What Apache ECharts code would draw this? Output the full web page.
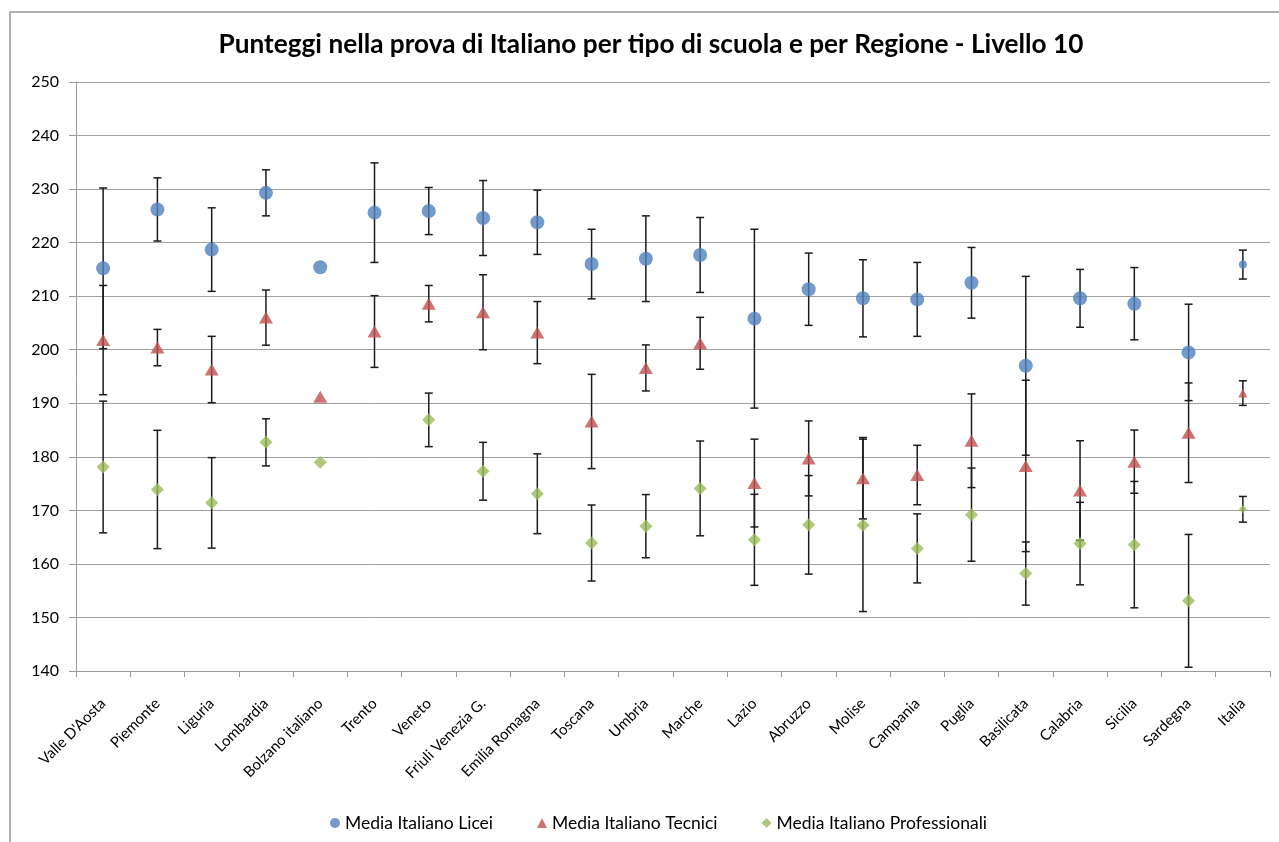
<!DOCTYPE html>
<html>
<head>
<meta charset="utf-8">
<script src="https://cdn.jsdelivr.net/npm/echarts@6/dist/echarts.min.js"></script>
<style>
html,body{margin:0;padding:0;background:#fff;}
#chart{width:1279px;height:842px;}
</style>
</head>
<body>
<div id="chart"></div>
<script>
const categories = ["Valle D'Aosta","Piemonte","Liguria","Lombardia","Bolzano italiano","Trento","Veneto","Friuli Venezia G.","Emilia Romagna","Toscana","Umbria","Marche","Lazio","Abruzzo","Molise","Campania","Puglia","Basilicata","Calabria","Sicilia","Sardegna","Italia"];

const liceiMean = [215.2,226.2,218.7,229.3,215.4,225.6,225.9,224.6,223.8,216.0,217.0,217.7,205.8,211.3,209.6,209.4,212.5,197.0,209.6,208.6,199.5,215.9];
const liceiErr  = [15.0,5.9,7.8,4.3,null,9.3,4.4,7.0,6.0,6.5,8.0,7.0,16.7,6.75,7.2,6.9,6.6,16.7,5.4,6.75,9.0,2.7];

const tecniciMean = [201.8,200.4,196.3,206.0,191.2,203.4,208.6,207.0,203.2,186.6,196.6,201.2,175.1,179.7,176.0,176.6,183.0,178.3,173.7,179.1,184.5,191.9];
const tecniciErr  = [10.2,3.4,6.2,5.15,null,6.7,3.4,7.0,5.8,8.8,4.3,4.85,8.2,7.0,7.6,5.55,8.75,16.0,9.3,5.9,9.3,2.3];

const profMean = [178.1,173.9,171.4,182.7,179.0,null,186.9,177.3,173.1,163.9,167.05,174.1,164.5,167.3,167.2,162.9,169.2,158.2,163.8,163.6,153.1,170.2];
const profErr  = [12.3,11.05,8.45,4.4,null,null,5.0,5.4,7.45,7.1,5.9,8.85,8.5,9.2,16.1,6.45,8.7,5.9,7.7,11.8,12.4,2.4];

const yTicks = {min:140, max:250, interval:10};
const seriesNames = ["Media Italiano Licei","Media Italiano Tecnici","Media Italiano Professionali"];

const FONT = "Lato";

function errData(mean, err){
  const out = [];
  for (let i=0;i<mean.length;i++){
    if (mean[i]==null || err[i]==null) continue;
    out.push([i, mean[i]-err[i], mean[i]+err[i]]);
  }
  return out;
}
function errRender(params, api){
  const x = api.value(0), lo = api.value(1), hi = api.value(2);
  const pt = api.coord([x, hi]);
  const pb = api.coord([x, lo]);
  const w = 4;
  const style = {stroke:'#1a1a1a', lineWidth:1.5};
  return {type:'group', children:[
    {type:'line', shape:{x1:pt[0],y1:pt[1],x2:pb[0],y2:pb[1]}, style:style},
    {type:'line', shape:{x1:pt[0]-w,y1:pt[1],x2:pt[0]+w,y2:pt[1]}, style:style},
    {type:'line', shape:{x1:pb[0]-w,y1:pb[1],x2:pb[0]+w,y2:pb[1]}, style:style}
  ]};
}
const last = categories.length-1;
function sizeFn(big, small){
  return function(v, p){ return p.dataIndex===last ? small : big; };
}

const chart = echarts.init(document.getElementById('chart'), null, {renderer:'canvas'});
chart.setOption({
  animation:false,
  backgroundColor:'#ffffff',
  textStyle:{fontFamily:FONT},
  graphic:[{
    type:'rect', shape:{x:10, y:12, width:1400, height:1000},
    style:{fill:'none', stroke:'#b0b0b0', lineWidth:2}, silent:true, z:-1
  }],
  title:{
    text:'Punteggi nella prova di Italiano per tipo di scuola e per Regione - Livello 10',
    left:646, top:27, textAlign:'center',
    textStyle:{fontFamily:FONT, fontSize:26.2, fontWeight:'bold', color:'#000'}
  },
  legend:{
    data:seriesNames,
    left:325, top:809,
    itemWidth:10, itemHeight:10, itemGap:44,
    textStyle:{fontFamily:FONT, fontSize:17.5, color:'#000'}
  },
  grid:{left:76, right:9, top:82, bottom:171, containLabel:false},
  xAxis:{
    type:'category', data:categories, boundaryGap:true,
    axisLine:{lineStyle:{color:'#9a9a9a', width:1}},
    axisTick:{show:true, length:6, lineStyle:{color:'#9a9a9a'}},
    axisLabel:{interval:0, rotate:45, margin:30, fontFamily:FONT, fontSize:15, color:'#000'},
    splitLine:{show:false}
  },
  yAxis:{
    type:'value', min:yTicks.min, max:yTicks.max, interval:yTicks.interval,
    axisLine:{show:true, lineStyle:{color:'#9a9a9a', width:1}},
    axisTick:{show:true, length:7, lineStyle:{color:'#9a9a9a'}},
    axisLabel:{margin:17, fontFamily:FONT, fontSize:16, color:'#000'},
    splitLine:{lineStyle:{color:'#a0a0a0', width:1}}
  },
  series:[
    {name:'errL', type:'custom', renderItem:errRender, data:errData(liceiMean, liceiErr), encode:{x:0,y:[1,2]}, z:1, silent:true},
    {name:'errT', type:'custom', renderItem:errRender, data:errData(tecniciMean, tecniciErr), encode:{x:0,y:[1,2]}, z:1, silent:true},
    {name:'errP', type:'custom', renderItem:errRender, data:errData(profMean, profErr), encode:{x:0,y:[1,2]}, z:1, silent:true},
    {name:seriesNames[0], type:'scatter', symbol:'circle', symbolSize:sizeFn(14,8), data:liceiMean, itemStyle:{color:'#4F81BD'}, z:3},
    {name:seriesNames[1], type:'scatter', symbol:'triangle', symbolSize:sizeFn([14,12],[9,9]), data:tecniciMean, itemStyle:{color:'#C0504D'}, z:3},
    {name:seriesNames[2], type:'scatter', symbol:'diamond', symbolSize:sizeFn([13,13],[8,8]), data:profMean, itemStyle:{color:'#9BBB59'}, z:3}
  ]
});
</script>
</body>
</html>
